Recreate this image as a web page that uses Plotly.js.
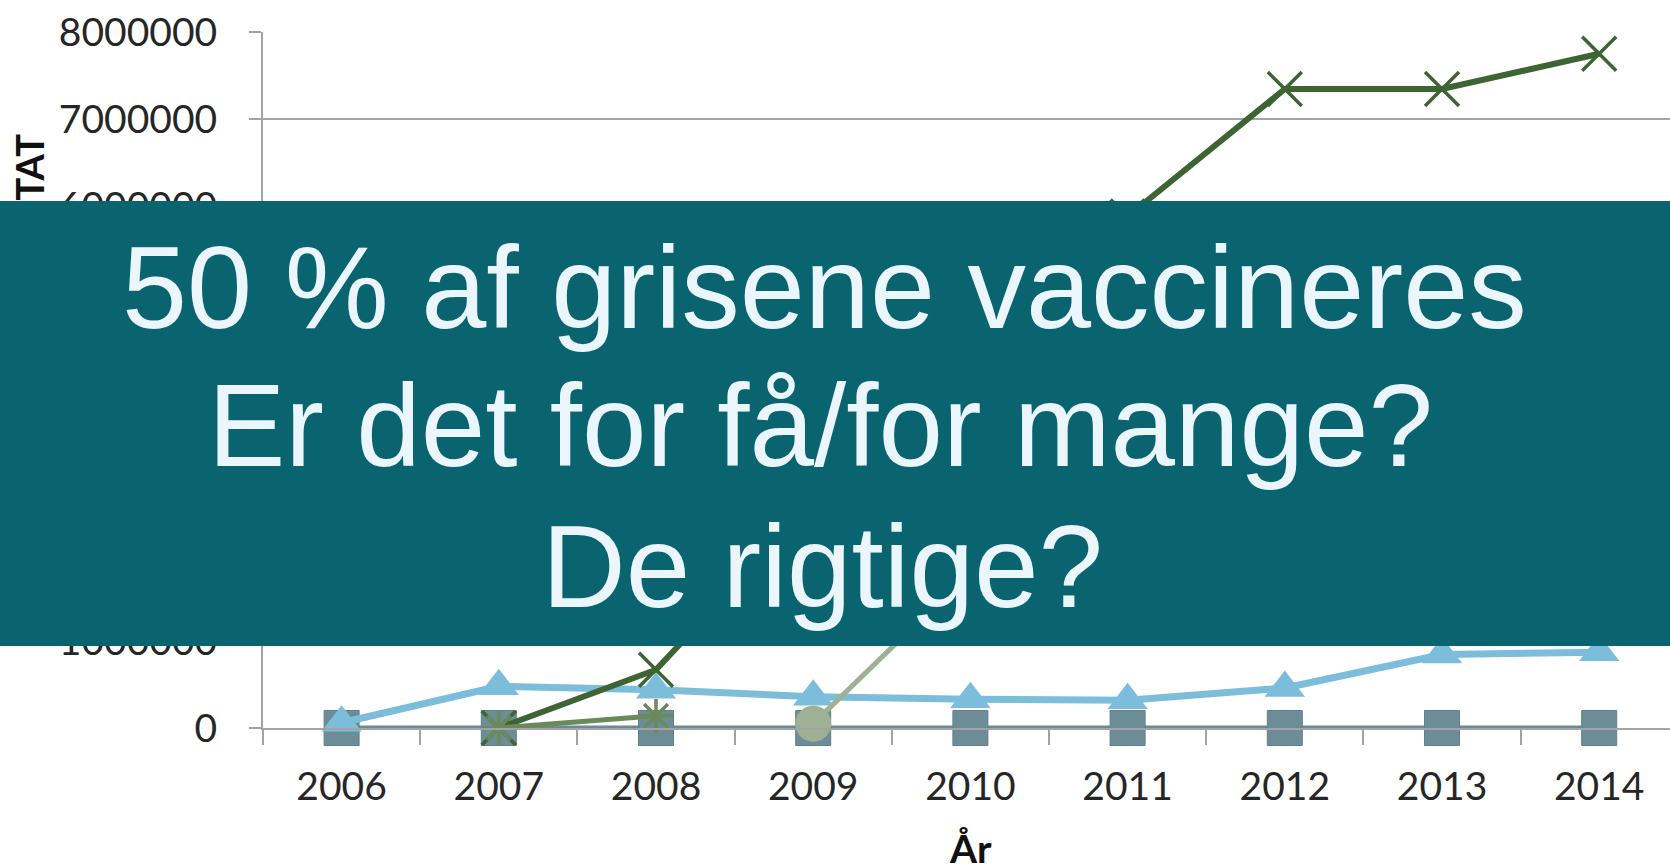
<!DOCTYPE html>
<html>
<head>
<meta charset="utf-8">
<script src="https://cdn.plot.ly/plotly-3.0.1.min.js"></script>
<style>
  html, body { margin: 0; padding: 0; background: #ffffff; overflow: hidden; }
  #chart { width: 1670px; height: 865px; }
</style>
</head>
<body>
<div id="chart"></div>
<script>
// ---- data ----
const years = ['2006', '2007', '2008', '2009', '2010', '2011', '2012', '2013', '2014'];
const squareSeries   = [0, 0, 0, 0, 0, 0, 0, 0, 0];
const triangleSeries = [60000, 480000, 440000, 360000, 330000, 320000, 460000, 845000, 870000];
const crossSeries    = [null, 0, 670000, 2600000, 4200000, 5880000, 7345000, 7345000, 7750000];
const starSeries     = [null, 0, 140000, null, null, null, null, null, null];
const circleSeries   = [null, null, null, 50000, 1800000, 2400000, 2900000, 3200000, 3400000];
const yTicks = [0, 1000000, 2000000, 3000000, 4000000, 5000000, 6000000, 7000000, 8000000];
const xTitle = 'År';
const yTitle = 'ANTAL DOSER VETSTAT';
const bannerLines = ['50 % af grisene vaccineres', 'Er det for få/for mange?', 'De rigtige?'];

// ---- layout geometry ----
const W = 1670, H = 865, ML = 263, MR = 0, MT = 32, MB = 137;
const PW = W - ML - MR, PH = H - MT - MB;
const catPx = 157.2;
const fx = p => (p - ML) / PW;
const fy = p => (H - MB - p) / PH;

const tickFont = { family: 'Lato, "Open Sans", sans-serif', size: 39, color: '#262626' };
const gray = '#A3A3A3';

const traces = [
  { x: years, y: squareSeries, type: 'scatter', mode: 'lines+markers', name: 'A',
    line: { color: '#6A8C96', width: 5 },
    marker: { symbol: 'square', size: 35, color: '#6C8D97', line: { color: '#5F818B', width: 1 } },
    cliponaxis: false },
  { x: years, y: triangleSeries, type: 'scatter', mode: 'lines+markers', name: 'B',
    line: { color: '#7DBDDC', width: 7 },
    marker: { symbol: 'triangle-up', size: 35, color: '#7DBDDC' },
    cliponaxis: false },
  { x: years, y: crossSeries, type: 'scatter', mode: 'lines+markers', name: 'C',
    line: { color: '#3E6434', width: 6 },
    marker: { symbol: 'x-thin-open', size: 34, color: '#3E6434', line: { color: '#3E6434', width: 3.5 } },
    cliponaxis: false, connectgaps: false },
  { x: years, y: starSeries, type: 'scatter', mode: 'lines+markers', name: 'D',
    line: { color: '#6B8A5B', width: 5 },
    marker: { symbol: 'asterisk-open', size: 28, color: '#6B8A5B', line: { color: '#6B8A5B', width: 3.5 } },
    cliponaxis: false },
  { x: years, y: circleSeries, type: 'scatter', mode: 'lines+markers', name: 'E',
    line: { color: '#9EB196', width: 5 },
    marker: { symbol: 'circle', size: 36, color: '#9EB196' },
    cliponaxis: false }
];

const layout = {
  width: W, height: H,
  margin: { l: ML, r: MR, t: MT, b: MB, pad: 0 },
  paper_bgcolor: '#ffffff', plot_bgcolor: '#ffffff',
  showlegend: false,
  xaxis: {
    type: 'category',
    categoryorder: 'array', categoryarray: years,
    range: [-0.5, -0.5 + PW / catPx],
    showgrid: false, zeroline: false,
    showline: true, linecolor: gray, linewidth: 2,
    ticks: 'outside', tickson: 'boundaries', ticklen: 15, tickwidth: 2, tickcolor: gray,
    tickfont: tickFont, ticklabelstandoff: 23,
    fixedrange: true
  },
  yaxis: {
    range: [0, 8000000],
    tickvals: yTicks, tickformat: 'd',
    showgrid: true, gridcolor: gray, gridwidth: 2,
    zeroline: false,
    showline: true, linecolor: gray, linewidth: 2,
    ticks: 'outside', ticklen: 12, tickwidth: 2, tickcolor: gray,
    tickfont: tickFont, ticklabelstandoff: 24,
    fixedrange: true
  },
  annotations: [
    { text: yTitle, xref: 'paper', yref: 'paper', x: fx(29), y: fy(132),
      xanchor: 'center', yanchor: 'top', textangle: -90, showarrow: false,
      font: { family: 'Lato, "Open Sans", sans-serif', size: 38, color: '#111111', weight: 'bold' } },
    { text: xTitle, xref: 'paper', yref: 'paper', x: fx(970), y: fy(823),
      xanchor: 'center', yanchor: 'top', showarrow: false,
      font: { family: 'Lato, "Open Sans", sans-serif', size: 39, color: '#111111', weight: 'bold' } },
    { text: ' ', xref: 'paper', yref: 'paper', x: fx(0), y: fy(201),
      xanchor: 'left', yanchor: 'top', showarrow: false,
      width: W, height: 445, bgcolor: '#096470', borderpad: 0, borderwidth: 0,
      font: { size: 10, color: '#096470' } },
    { text: bannerLines[0], xref: 'paper', yref: 'paper', x: fx(824), y: fy(287),
      xanchor: 'center', yanchor: 'middle', showarrow: false, borderpad: 0,
      font: { family: '"Liberation Sans", Arial, sans-serif', size: 117, color: '#EAF6FC' } },
    { text: bannerLines[1], xref: 'paper', yref: 'paper', x: fx(820), y: fy(426),
      xanchor: 'center', yanchor: 'middle', showarrow: false, borderpad: 0,
      font: { family: '"Liberation Sans", Arial, sans-serif', size: 116, color: '#EAF6FC' } },
    { text: bannerLines[2], xref: 'paper', yref: 'paper', x: fx(822), y: fy(567),
      xanchor: 'center', yanchor: 'middle', showarrow: false, borderpad: 0,
      font: { family: '"Liberation Sans", Arial, sans-serif', size: 116, color: '#EAF6FC' } }
  ]
};

Plotly.newPlot('chart', traces, layout, { displayModeBar: false, staticPlot: true });
</script>
</body>
</html>
